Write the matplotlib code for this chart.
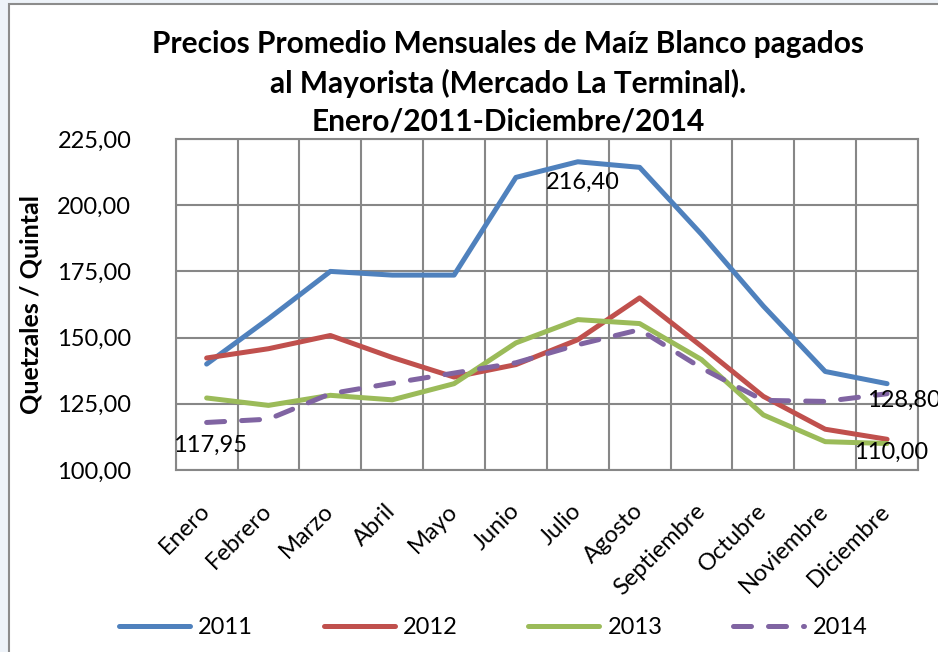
import numpy as np
import matplotlib.pyplot as plt
from matplotlib.patches import Rectangle

plt.rcParams['font.family'] = ['Lato', 'DejaVu Sans']

# Data
meses = ['Enero', 'Febrero', 'Marzo', 'Abril', 'Mayo', 'Junio', 'Julio',
         'Agosto', 'Septiembre', 'Octubre', 'Noviembre', 'Diciembre']
p2011 = [140.0, 157.1, 175.0, 173.6, 173.6, 210.5, 216.40, 214.3, 189.0, 161.9, 137.2, 132.6]
p2012 = [142.3, 145.8, 150.8, 142.5, 135.1, 139.8, 149.2, 165.0, 146.7, 127.8, 115.4, 111.6]
p2013 = [127.2, 124.4, 128.2, 126.5, 132.6, 148.0, 156.8, 155.3, 141.7, 120.8, 110.7, 110.00]
p2014 = [117.95, 119.2, 128.8, 132.8, 136.6, 140.5, 147.3, 153.0, 138.5, 126.3, 125.9, 128.80]
y_ticks = [100, 125, 150, 175, 200, 225]

title_lines = ['Precios Promedio Mensuales de Maíz Blanco pagados',
               'al Mayorista (Mercado La Terminal).',
               'Enero/2011-Diciembre/2014']

def fmt(v):
    return f'{v:.2f}'.replace('.', ',')

W, H = 938, 652
fig = plt.figure(figsize=(W / 100, H / 100), dpi=100)
fig.patch.set_facecolor('#eef3f9')
fig.add_artist(Rectangle((9 / W, -0.1), 1.2, 1 - 4 / H + 0.1, transform=fig.transFigure,
                         facecolor='white', edgecolor='#8c8c8c', lw=1.5, zorder=-10))

ax = fig.add_axes([175.7 / W, 1 - 470 / H, (918 - 175.7) / W, (470 - 139) / H])
ax.set_facecolor('white')

x = np.arange(len(meses))
lw = 3.6
ax.plot(x, p2011, color='#4F81BD', lw=lw, solid_capstyle='round', label='2011', zorder=3)
ax.plot(x, p2012, color='#C0504D', lw=lw, solid_capstyle='round', label='2012', zorder=3)
ax.plot(x, p2013, color='#9BBB59', lw=lw, solid_capstyle='round', label='2013', zorder=3)
ax.plot(x, p2014, color='#8064A2', lw=lw, dashes=(3.6, 3.4), dash_capstyle='round',
        label='2014', zorder=3)

ax.set_xlim(-0.5, len(meses) - 0.5)
ax.set_ylim(y_ticks[0], y_ticks[-1])
ax.set_yticks(y_ticks)
ax.set_yticklabels([fmt(v) for v in y_ticks])
ax.set_xticks(x)
ax.set_xticklabels(meses, rotation=45, ha='right', va='center', rotation_mode='anchor')
ax.set_xticks(np.arange(-0.5, len(meses)), minor=True)
ax.tick_params(axis='both', which='both', length=0, labelsize=17, colors='black')
ax.tick_params(axis='y', pad=32)
ax.tick_params(axis='x', pad=27)

grid_c = '#878787'
ax.yaxis.grid(True, color=grid_c, lw=1.5)
ax.xaxis.grid(True, which='minor', color=grid_c, lw=1.5)
for s in ax.spines.values():
    s.set_color(grid_c)
    s.set_linewidth(1.5)

fig.text(31 / W, 1 - 304.5 / H, 'Quetzales / Quintal', rotation=90, ha='center', va='center',
         fontsize=18, fontweight='bold')

# data labels
ax.annotate(fmt(p2014[0]), (0, p2014[0]), xytext=(3, -23), textcoords='offset pixels',
            ha='center', va='center', fontsize=17)
ax.annotate(fmt(p2011[6]), (6, p2011[6]), xytext=(5, -21), textcoords='offset pixels',
            ha='center', va='center', fontsize=17)
ax.annotate(fmt(p2014[11]), (11, p2014[11]), xytext=(-20, -7), textcoords='offset pixels',
            ha='left', va='center', fontsize=17, annotation_clip=False)
ax.annotate(fmt(p2013[11]), (11, p2013[11]), xytext=(4.5, -9), textcoords='offset pixels',
            ha='center', va='center', fontsize=17)

# title
for i, line in enumerate(title_lines):
    fig.text(508 / W, 1 - (44 + 39 * i) / H, line, ha='center', va='center',
             fontsize=21.5, fontweight='bold')

handles, labels = ax.get_legend_handles_labels()
fig.legend(handles, labels, loc='center', bbox_to_anchor=(493 / W, 1 - 628 / H), ncol=4,
           frameon=False, fontsize=17, handlelength=3.0, columnspacing=3.0,
           handletextpad=0.35)

fig.savefig('out.png', dpi=100, facecolor=fig.get_facecolor())
